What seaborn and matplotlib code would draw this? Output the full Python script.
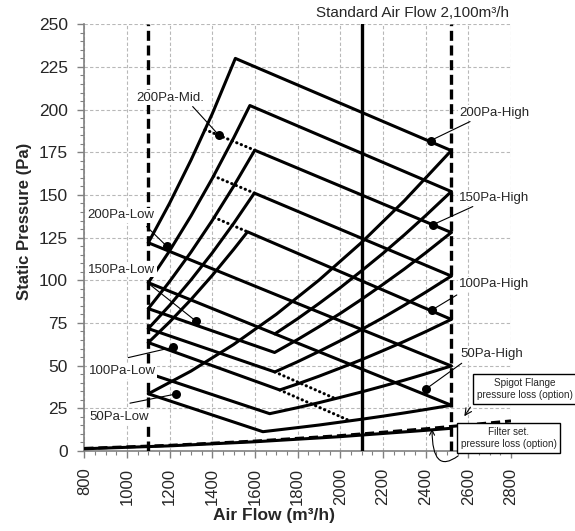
import matplotlib
matplotlib.use("Agg")
import matplotlib.pyplot as plt
import seaborn as sns
from matplotlib.ticker import MultipleLocator
from matplotlib.patches import FancyArrowPatch
from matplotlib.path import Path

# ---------------- data ----------------
# rising-then-falling curves (system curve up to the peak, then fan curve down)
lam200_x = [1100, 1200, 1300, 1400, 1508, 2520]
lam200_y = [122, 145.2, 170.4, 197.6, 230, 176]
lam175_x = [1100, 1200, 1300, 1400, 1500, 1576, 2520]
lam175_y = [98.6, 117.3, 137.7, 159.7, 183.4, 202.4, 152]
lam150_x = [1100, 1200, 1300, 1400, 1500, 1599, 2520]
lam150_y = [83.4, 99.3, 116.5, 135.1, 155.1, 176.2, 128]
lam125_x = [1100, 1200, 1300, 1400, 1500, 1597, 2520]
lam125_y = [71.7, 85.3, 100.2, 116.1, 133.3, 151.1, 102.5]
lam100_x = [1100, 1200, 1300, 1400, 1500, 1565, 2520]
lam100_y = [63.5, 75.6, 88.7, 102.9, 118.1, 128.4, 77.1]

# falling-then-rising curves
v150_x = [1100, 1692, 1800, 1900, 2000, 2100, 2200, 2300, 2400, 2520]
v150_y = [83.4, 57.7, 65.3, 72.8, 80.6, 88.9, 97.6, 106.6, 116.1, 128]
v125_x = [1100, 1693, 1800, 1900, 2000, 2100, 2200, 2300, 2400, 2520]
v125_y = [71.7, 46.3, 52.3, 58.3, 64.6, 71.2, 78.1, 85.4, 93.0, 102.5]
v100_x = [1100, 1716, 1800, 1900, 2000, 2100, 2200, 2300, 2400, 2520]
v100_y = [63.5, 35.75, 39.3, 43.8, 48.6, 53.5, 58.8, 64.2, 69.9, 77.1]
v75_x = [1100, 1669, 1800, 1900, 2000, 2100, 2200, 2300, 2400, 2520]
v75_y = [45.5, 21.85, 25.4, 28.3, 31.4, 34.6, 38.0, 41.5, 45.2, 49.8]
v50_x = [1100, 1637, 1800, 1900, 2000, 2100, 2200, 2300, 2400, 2520]
v50_y = [33.5, 11.3, 13.7, 15.2, 16.9, 18.6, 20.4, 22.3, 24.3, 26.8]

# straight low curves and long system curves
low200_x = [1100, 2520]
low200_y = [122, 49.8]
low175_x = [1100, 2520]
low175_y = [98.6, 26.8]
sysA_x = [1100, 1300, 1500, 1700, 1900, 2100, 2300, 2520]
sysA_y = [33.5, 46.8, 62.4, 80.1, 100.1, 122.2, 146.6, 176]
sysB_x = [1693, 1800, 1900, 2000, 2100, 2200, 2300, 2400, 2520]
sysB_y = [68.6, 77.5, 86.4, 95.7, 105.6, 115.8, 126.6, 137.9, 152]

# dotted (mid) segments
dot1_x, dot1_y = [1366, 1599], [188.3, 176.2]
dot2_x, dot2_y = [1406, 1597], [161.1, 151.1]
dot3_x, dot3_y = [1409, 1565], [136.8, 128.4]
dot4_x, dot4_y = [1693, 1978], [46.3, 30.6]
dot5_x, dot5_y = [1716, 2045], [35.75, 17.65]

# option pressure losses
spigot_x = [800, 1200, 1600, 2000, 2400, 2800]
spigot_y = [1.5, 3.3, 5.8, 9.0, 13.0, 17.6]
filter_x = [800, 1200, 1600, 2000, 2400, 2520]
filter_y = [1.3, 3.0, 5.4, 8.4, 12.1, 13.3]

limit_flows = [1100, 2520]
standard_flow = 2100

# labelled points
label_texts = ["200Pa-Mid.", "200Pa-Low", "150Pa-Low", "100Pa-Low", "50Pa-Low",
               "200Pa-High", "150Pa-High", "100Pa-High", "50Pa-High"]
label_x = [1202, 972, 974, 977, 965, 2723, 2723, 2723, 2709]
label_y = [206.9, 138.0, 106.1, 46.6, 19.9, 198.1, 148.0, 97.6, 56.9]
leader_x = [1308, 1092, 1099, 1006, 1014, 2608, 2621, 2546, 2569]
leader_y = [201.8, 131.5, 98.3, 54.7, 28.0, 193.0, 143.2, 91.4, 51.4]
dot_x = [1431, 1186, 1322, 1217, 1230, 2424, 2433, 2431, 2400]
dot_y = [185.0, 120.0, 76.2, 60.8, 33.4, 181.9, 132.5, 82.7, 36.2]

x_ticks = list(range(800, 2801, 200))
y_ticks = list(range(0, 251, 25))

# ---------------- figure ----------------
sns.set_theme(style="ticks")
plt.rcParams['font.family'] = ['Liberation Sans', 'DejaVu Sans']

fig = plt.figure(figsize=(5.75, 5.31), dpi=100)
ax = fig.add_axes([0.1466, 0.1507, 0.7421, 0.8036])

LW = 2.2


def curve(xs, ys, ls="-", dashes=None, lw=LW):
    sns.lineplot(x=xs, y=ys, ax=ax, sort=False, estimator=None, color="black",
                 linewidth=lw, legend=False, zorder=3)
    ln = ax.lines[-1]
    if ls == ":":
        ln.set_linestyle((0, (0.1, 1.5)))
        ln.set_dash_capstyle("round")
    elif dashes is not None:
        ln.set_dashes(dashes)
    return ln


for xs, ys in [(lam200_x, lam200_y), (lam175_x, lam175_y), (lam150_x, lam150_y),
               (lam125_x, lam125_y), (lam100_x, lam100_y),
               (v150_x, v150_y), (v125_x, v125_y), (v100_x, v100_y),
               (v75_x, v75_y), (v50_x, v50_y),
               (low200_x, low200_y), (low175_x, low175_y),
               (sysA_x, sysA_y), (sysB_x, sysB_y)]:
    curve(xs, ys)

for xs, ys in [(dot1_x, dot1_y), (dot2_x, dot2_y), (dot3_x, dot3_y),
               (dot4_x, dot4_y), (dot5_x, dot5_y)]:
    curve(xs, ys, ls=":")

curve(filter_x, filter_y)
curve(spigot_x, spigot_y, dashes=[3, 1.6])

for xv in limit_flows:
    ax.axvline(xv, color="black", lw=2.4, dashes=[3, 1.4], zorder=3)
ax.axvline(standard_flow, color="black", lw=2.4, zorder=3)

# labels, leaders, dots
for t, lx, ly, sx, sy, px, py in zip(label_texts, label_x, label_y, leader_x, leader_y, dot_x, dot_y):
    ax.plot([sx, px], [sy, py], color="black", lw=0.8, zorder=4)
    ax.text(lx, ly, t, ha="center", va="center", fontsize=9.5, zorder=5,
            bbox=dict(boxstyle="square,pad=0.12", fc="white", ec="none"))
sns.scatterplot(x=dot_x, y=dot_y, ax=ax, color="black", s=42, edgecolor="black",
                linewidth=0, zorder=6, legend=False)

# option boxes
ax.text(2864, 36.3, "Spigot Flange\npressure loss (option)", ha="center", va="center",
        fontsize=7.2, linespacing=1.35, zorder=7, clip_on=False,
        bbox=dict(boxstyle="square,pad=0.35", fc="white", ec="black", lw=1))
ax.annotate("", xy=(2574, 19.0), xytext=(2617, 27.0),
            arrowprops=dict(arrowstyle="->", color="black", lw=0.8), zorder=7,
            annotation_clip=False)
ax.text(2789, 7.6, "Filter set.\npressure loss (option)", ha="center", va="center",
        fontsize=7.2, linespacing=1.35, zorder=7, clip_on=False,
        bbox=dict(boxstyle="square,pad=0.35", fc="white", ec="black", lw=1))
arr = FancyArrowPatch(path=Path([(2552, -2.9), (2430, -14.1), (2430, 12.9)],
                                [Path.MOVETO, Path.CURVE3, Path.CURVE3]),
                      arrowstyle="->", mutation_scale=9, color="black", lw=0.8,
                      transform=ax.transData, clip_on=False, zorder=7)
ax.add_patch(arr)

ax.text(2339, 256.8, "Standard Air Flow 2,100m³/h", ha="center", va="center",
        fontsize=11, clip_on=False)

# axes styling
ax.set_xlim(800, 2800)
ax.set_ylim(0, 250)
ax.set_xticks(x_ticks)
ax.set_yticks(y_ticks)
ax.xaxis.set_minor_locator(MultipleLocator(50))
ax.yaxis.set_minor_locator(MultipleLocator(5))
ax.tick_params(axis="both", which="major", direction="out", length=5, width=1,
               color="#808080", bottom=True, left=True)
ax.tick_params(axis="y", which="major", pad=7, labelsize=12.5)
ax.tick_params(axis="x", which="major", pad=7, labelsize=12)
ax.tick_params(axis="both", which="minor", direction="out", length=3, width=0.8,
               color="#808080", bottom=True, left=True)
plt.setp(ax.get_xticklabels(), rotation=90)
ax.grid(True, which="major", color="#b8b8b8", linestyle=(0, (3, 2)), linewidth=0.8)
ax.set_axisbelow(True)
for side in ["top", "right"]:
    ax.spines[side].set_visible(False)
for side in ["left", "bottom"]:
    ax.spines[side].set_color("#808080")
    ax.spines[side].set_linewidth(1.2)

ax.set_xlabel("Air Flow (m³/h)", fontsize=12.5, fontweight="bold")
ax.set_ylabel("Static Pressure (Pa)", fontsize=12, fontweight="bold")
ax.xaxis.set_label_coords(0.4446, -0.1336)
ax.yaxis.set_label_coords(-0.1226, 0.537)

fig.savefig("out.png", dpi=100)
